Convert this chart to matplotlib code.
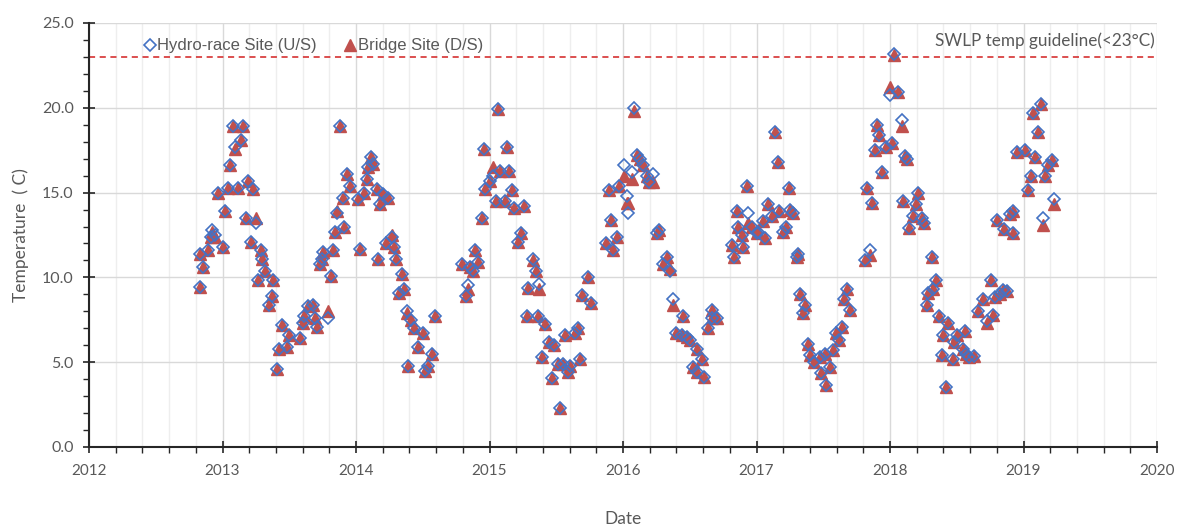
import matplotlib
matplotlib.use("Agg")
import matplotlib.pyplot as plt
from matplotlib.ticker import MultipleLocator, FormatStrFormatter

# ---- data (decimal year, Hydro-race U/S temp, Bridge D/S temp) ----
dates = [
    2012.828, 2012.834, 2012.856, 2012.894, 2012.914, 2012.924, 2012.944, 2012.964,
    2013.006, 2013.019, 2013.039, 2013.056, 2013.081, 2013.094, 2013.114, 2013.139,
    2013.156, 2013.174, 2013.193, 2013.213, 2013.226, 2013.249, 2013.264, 2013.288,
    2013.298, 2013.318, 2013.351, 2013.373, 2013.381, 2013.406, 2013.423, 2013.443,
    2013.481, 2013.498, 2013.581, 2013.605, 2013.610, 2013.643, 2013.680, 2013.693,
    2013.706, 2013.730, 2013.743, 2013.755, 2013.788, 2013.811, 2013.830, 2013.843,
    2013.860, 2013.880, 2013.905, 2013.912, 2013.935, 2013.955,
    2014.017, 2014.030, 2014.060, 2014.080, 2014.092, 2014.110, 2014.130, 2014.155,
    2014.162, 2014.180, 2014.204, 2014.222, 2014.242, 2014.267, 2014.287, 2014.297,
    2014.324, 2014.342, 2014.362, 2014.380, 2014.392, 2014.410, 2014.437, 2014.467,
    2014.500, 2014.517, 2014.542, 2014.572, 2014.592, 2014.792, 2014.822, 2014.841,
    2014.854, 2014.879, 2014.891, 2014.916, 2014.942, 2014.959, 2014.966,
    2015.004, 2015.028, 2015.049, 2015.061, 2015.079, 2015.116, 2015.133, 2015.146,
    2015.166, 2015.184, 2015.216, 2015.236, 2015.261, 2015.279, 2015.291, 2015.324,
    2015.346, 2015.361, 2015.373, 2015.396, 2015.416, 2015.446, 2015.466, 2015.483,
    2015.516, 2015.528, 2015.553, 2015.569, 2015.590, 2015.603, 2015.640, 2015.665,
    2015.678, 2015.695, 2015.740, 2015.758, 2015.873, 2015.895, 2015.908, 2015.927,
    2015.953, 2015.972,
    2016.010, 2016.030, 2016.040, 2016.065, 2016.082, 2016.103, 2016.127, 2016.152,
    2016.182, 2016.197, 2016.227, 2016.252, 2016.272, 2016.302, 2016.332, 2016.352,
    2016.377, 2016.397, 2016.440, 2016.452, 2016.477, 2016.502, 2016.527, 2016.552,
    2016.558, 2016.590, 2016.607, 2016.639, 2016.664, 2016.669, 2016.702, 2016.814,
    2016.831, 2016.852, 2016.864, 2016.889, 2016.901, 2016.931, 2016.939, 2016.964,
    2017.001, 2017.013, 2017.051, 2017.064, 2017.088, 2017.114, 2017.139, 2017.159,
    2017.171, 2017.201, 2017.221, 2017.243, 2017.251, 2017.276, 2017.301, 2017.313,
    2017.326, 2017.346, 2017.363, 2017.388, 2017.401, 2017.433, 2017.476, 2017.486,
    2017.513, 2017.521, 2017.551, 2017.575, 2017.596, 2017.620, 2017.638, 2017.658,
    2017.680, 2017.700, 2017.813, 2017.825, 2017.850, 2017.867, 2017.888, 2017.900,
    2017.920, 2017.938, 2017.970,
    2018.000, 2018.013, 2018.032, 2018.062, 2018.088, 2018.100, 2018.112, 2018.130,
    2018.145, 2018.175, 2018.195, 2018.212, 2018.237, 2018.255, 2018.275, 2018.288,
    2018.312, 2018.324, 2018.345, 2018.369, 2018.387, 2018.399, 2018.419, 2018.437,
    2018.474, 2018.479, 2018.500, 2018.549, 2018.562, 2018.573, 2018.594, 2018.629,
    2018.661, 2018.699, 2018.729, 2018.757, 2018.774, 2018.787, 2018.804, 2018.824,
    2018.849, 2018.854, 2018.879, 2018.899, 2018.919, 2018.924, 2018.949,
    2019.011, 2019.036, 2019.054, 2019.073, 2019.086, 2019.111, 2019.131, 2019.144,
    2019.161, 2019.186, 2019.211, 2019.231,
]

hydro_race_us = [
    11.4, 9.45, 10.6, 11.6, 12.4, 12.8, 12.5, 15.0,
    11.8, 13.9, 15.3, 16.6, 18.9, 17.7, 15.3, 18.1,
    18.9, 13.5, 15.7, 12.1, 15.2, 13.2, 9.85, 11.6,
    11.1, 10.4, 8.4, 8.9, 9.85, 4.6, 5.8, 7.2,
    5.9, 6.6, 6.4, 7.3, 7.7, 8.3, 8.4, 7.6,
    7.1, 10.8, 11.1, 11.5, 7.6, 10.1, 11.6, 12.7,
    13.8, 18.9, 14.7, 13.0, 16.1, 15.4,
    14.6, 11.65, 15.0, 15.8, 16.5, 17.1, 16.7, 15.2,
    11.1, 14.3, 14.9, 12.0, 14.7, 12.4, 11.8, 11.1,
    9.1, 10.2, 9.3, 8.0, 4.8, 7.5, 7.0, 5.9,
    6.7, 4.5, 4.8, 5.5, 7.7, 10.8, 8.9, 9.55,
    10.6, 10.4, 11.6, 10.9, 13.5, 17.6, 15.2,
    15.7, 16.0, 14.5, 19.9, 16.3, 14.5, 17.7, 16.3,
    15.15, 14.1, 12.1, 12.6, 14.2, 7.7, 9.4, 11.1,
    10.35, 7.7, 9.6, 5.3, 7.25, 6.2, 4.05, 6.0,
    4.9, 2.3, 4.9, 6.6, 4.4, 4.8, 6.7, 7.0,
    5.2, 8.95, 10.0, 8.5, 12.0, 15.15, 13.4, 11.6,
    12.4, 15.4,
    16.6, 14.8, 13.8, 16.2, 20.0, 17.2, 17.0, 16.6,
    16.0, 15.65, 16.1, 12.6, 12.8, 10.8, 11.2, 10.4,
    8.7, 6.7, 6.6, 7.7, 6.5, 6.3, 4.7, 5.8,
    4.45, 5.2, 4.15, 7.0, 7.6, 8.1, 7.6, 11.9,
    11.2, 13.9, 13.0, 12.5, 11.8, 15.4, 13.8, 13.0,
    12.6, 12.7, 13.3, 12.3, 14.3, 13.6, 18.6, 16.8,
    13.9, 12.7, 13.0, 15.25, 14.0, 13.8, 11.2, 11.4,
    9.05, 7.9, 8.4, 6.1, 5.4, 5.0, 5.3, 4.35,
    5.5, 3.65, 4.7, 5.7, 6.7, 6.3, 7.1, 8.7,
    9.3, 8.1, 11.0, 15.3, 11.6, 14.4, 17.5, 19.0,
    18.4, 16.2, 17.7,
    20.75, 17.9, 23.2, 20.95, 19.3, 14.5, 17.15, 17.0,
    12.9, 13.6, 14.3, 15.0, 13.5, 13.2, 8.4, 9.1,
    11.2, 9.3, 9.85, 7.75, 5.45, 6.6, 3.55, 7.3,
    5.2, 6.2, 6.6, 5.8, 6.85, 5.5, 5.3, 5.35,
    8.0, 8.7, 7.4, 9.85, 7.8, 8.85, 13.4, 9.05,
    9.25, 12.85, 9.2, 13.75, 12.6, 13.9, 17.4,
    17.5, 15.15, 16.0, 19.7, 17.1, 18.6, 20.25, 13.5,
    16.0, 16.6, 16.9, 14.6,
]

bridge_ds = [
    11.4, 9.45, 10.6, 11.6, 12.4, 12.7, 12.4, 15.0,
    11.8, 13.9, 15.3, 16.6, 18.9, 17.6, 15.3, 18.1,
    18.9, 13.5, 15.7, 12.1, 15.2, 13.5, 9.85, 11.6,
    11.1, 10.4, 8.4, 8.9, 9.85, 4.6, 5.8, 7.2,
    5.9, 6.6, 6.4, 7.3, 7.7, 8.3, 8.4, 7.6,
    7.1, 10.8, 11.1, 11.5, 8.0, 10.1, 11.6, 12.7,
    13.9, 18.9, 14.7, 13.0, 16.1, 15.4,
    14.6, 11.65, 15.0, 15.8, 16.5, 17.1, 16.7, 15.2,
    11.1, 14.3, 14.9, 12.0, 14.7, 12.5, 11.8, 11.1,
    9.1, 10.2, 9.3, 7.9, 4.8, 7.5, 7.0, 5.9,
    6.7, 4.5, 4.8, 5.5, 7.7, 10.8, 8.9, 9.3,
    10.6, 10.4, 11.6, 10.9, 13.5, 17.6, 15.2,
    15.7, 16.5, 14.5, 19.9, 16.3, 14.5, 17.7, 16.3,
    15.15, 14.1, 12.1, 12.6, 14.2, 7.7, 9.4, 11.0,
    10.35, 7.7, 9.3, 5.3, 7.25, 6.2, 4.05, 6.0,
    4.9, 2.3, 4.9, 6.6, 4.4, 4.8, 6.7, 7.0,
    5.2, 8.95, 10.0, 8.5, 12.0, 15.15, 13.4, 11.6,
    12.4, 15.4,
    16.0, 14.4, 14.4, 15.8, 19.8, 17.2, 17.0, 16.6,
    16.0, 15.65, 15.6, 12.6, 12.8, 10.8, 11.2, 10.5,
    8.4, 6.7, 6.6, 7.7, 6.5, 6.3, 4.7, 5.8,
    4.45, 5.2, 4.15, 7.0, 7.6, 8.1, 7.6, 11.9,
    11.2, 13.9, 13.0, 12.5, 11.8, 15.4, 13.2, 13.0,
    12.6, 12.7, 13.3, 12.3, 14.3, 13.6, 18.6, 16.8,
    13.9, 12.7, 13.0, 15.25, 14.0, 13.8, 11.2, 11.4,
    9.05, 7.9, 8.4, 6.1, 5.4, 5.0, 5.3, 4.35,
    5.5, 3.65, 4.7, 5.7, 6.7, 6.3, 7.1, 8.7,
    9.3, 8.1, 11.0, 15.3, 11.3, 14.4, 17.5, 19.0,
    18.4, 16.2, 17.7,
    21.25, 17.9, 23.1, 20.95, 18.9, 14.5, 17.15, 17.0,
    12.9, 13.6, 14.3, 15.0, 13.5, 13.2, 8.4, 9.1,
    11.2, 9.3, 9.85, 7.75, 5.45, 6.6, 3.55, 7.3,
    5.2, 6.2, 6.6, 5.8, 6.85, 5.5, 5.3, 5.35,
    8.0, 8.7, 7.3, 9.85, 7.8, 8.85, 13.4, 9.05,
    9.25, 12.85, 9.2, 13.75, 12.6, 13.9, 17.4,
    17.5, 15.15, 16.0, 19.7, 17.1, 18.6, 20.25, 13.1,
    16.0, 16.6, 16.9, 14.3,
]

guideline = 23.0
guideline_label = "SWLP temp guideline(<23°C)"
series_labels = ["Hydro-race Site (U/S)", "Bridge Site (D/S)"]
x_limits = (2012, 2020)
y_limits = (0, 25)

# ---- styling ----
BLUE = "#4472C4"
RED = "#C0504D"
GREY = "#595959"
CAL = ["Lato", "DejaVu Sans"]
ARIAL = ["Liberation Sans", "DejaVu Sans"]

fig = plt.figure(figsize=(11.77, 5.27), dpi=100)
ax = fig.add_axes([89 / 1177, 1 - 447 / 527, (1157 - 89) / 1177, (447 - 23) / 527])

ax.plot(dates, bridge_ds, linestyle="none", marker="^", markersize=9,
        color=RED, markeredgecolor=RED, label=series_labels[1], zorder=3)
ax.plot(dates, hydro_race_us, linestyle="none", marker="D", markersize=5.8,
        markerfacecolor="none", markeredgecolor=BLUE, markeredgewidth=1.2,
        label=series_labels[0], zorder=4)

ax.axhline(guideline, color="#D21F1F", linestyle=(0, (4, 3)), linewidth=1.1, zorder=2)
ax.text(0.998, (guideline + 0.45) / y_limits[1], guideline_label, transform=ax.transAxes,
        ha="right", va="bottom", fontsize=12.3, color=GREY, family=CAL)

ax.set_xlim(*x_limits)
ax.set_ylim(*y_limits)

ax.xaxis.set_major_locator(MultipleLocator(1))
ax.xaxis.set_minor_locator(MultipleLocator(0.2))
ax.yaxis.set_major_locator(MultipleLocator(5))
ax.yaxis.set_minor_locator(MultipleLocator(1))
ax.yaxis.set_major_formatter(FormatStrFormatter("%.1f"))
ax.xaxis.set_major_formatter(FormatStrFormatter("%d"))

ax.grid(which="major", axis="x", color="#D9D9D9", linewidth=1.0, zorder=0)
ax.grid(which="minor", axis="x", color="#EEEEEE", linewidth=1.0, zorder=0)
ax.grid(which="major", axis="y", color="#D9D9D9", linewidth=1.0, zorder=0)
ax.set_axisbelow(True)

for s in ("top", "right"):
    ax.spines[s].set_visible(False)
for s in ("left", "bottom"):
    ax.spines[s].set_color("#262626")
    ax.spines[s].set_linewidth(1.5)

ax.tick_params(which="major", direction="inout", length=8, width=1.2, color="#262626")
ax.tick_params(which="minor", direction="out", length=4, width=1.0, color="#262626")
ax.tick_params(axis="y", which="major", labelsize=11.5, labelcolor=GREY, pad=7)
ax.tick_params(axis="x", which="major", labelsize=11, labelcolor=GREY, pad=8)
for lab in ax.get_yticklabels() + ax.get_xticklabels():
    lab.set_family(CAL)

ax.set_ylabel("Temperature  ( C)", fontsize=12.5, color=GREY, family=CAL, labelpad=9)
ax.set_xlabel("Date", fontsize=12.5, color=GREY, family=CAL, labelpad=24)

handles, labels = ax.get_legend_handles_labels()
leg = ax.legend(handles[::-1], labels[::-1], loc="center left", bbox_to_anchor=(0.046, 0.946),
                ncol=2, frameon=False, handlelength=0.6, handletextpad=0.15,
                columnspacing=1.7, borderaxespad=0, numpoints=1,
                prop={"family": ARIAL, "size": 12})
for t in leg.get_texts():
    t.set_color(GREY)

fig.savefig("out.png", dpi=100)
